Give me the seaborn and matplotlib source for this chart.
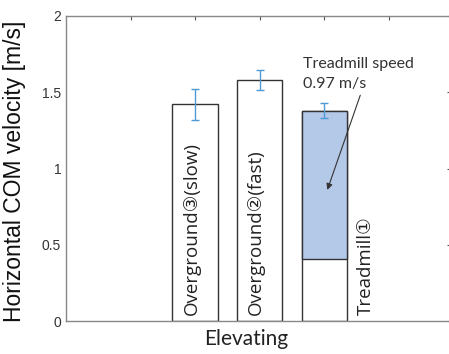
import pandas as pd
import numpy as np
import matplotlib
matplotlib.use('Agg')
import matplotlib.pyplot as plt
import seaborn as sns

# Datos
condiciones = ['Overground③(slow)', 'Overground②(fast)', 'Treadmill①']
velocidad = [1.42, 1.58, 1.38]
error = [0.10, 0.063, 0.05]
velocidad_cinta = 0.97

sns.set_style('white')
plt.rcParams['font.family'] = ['Liberation Sans', 'DejaVu Sans']

df = pd.DataFrame({'condicion': condiciones, 'velocidad': velocidad})

fig = plt.figure(figsize=(4.49, 3.54), dpi=100)
ax = fig.add_axes([0.147, 0.093, 0.858, 0.862])

sns.barplot(data=df, x='condicion', y='velocidad', color='white', width=0.7,
            edgecolor='#333333', linewidth=1.0, ax=ax)

# Parte azul de la cinta (velocidad de la cinta)
ax.bar(2, velocidad_cinta, width=0.7, bottom=velocidad[2] - velocidad_cinta,
       color='#b4c8e8', edgecolor='#333333', linewidth=1.0, zorder=3)

ax.errorbar(range(len(condiciones)), velocidad, yerr=error, fmt='none',
            ecolor='#4d9ad6', elinewidth=1.0, capsize=3, zorder=4)

# Etiquetas verticales de cada barra
fuente = ['Open Sans', 'DejaVu Sans']
ax.text(-0.05, 0.04, condiciones[0], rotation=90, ha='center', va='bottom',
        fontsize=13.5, family=fuente, color='#222222', zorder=5)
ax.text(0.95, 0.04, condiciones[1], rotation=90, ha='center', va='bottom',
        fontsize=13.5, family=fuente, color='#222222', zorder=5)
ax.text(2.65, 0.04, condiciones[2], rotation=90, ha='center', va='bottom',
        fontsize=13.5, family=fuente, color='#222222', zorder=5)

# Anotación de la velocidad de la cinta
ax.text(1.68, 1.73, 'Treadmill speed\n0.97 m/s', fontsize=11.5, family=['Lato', 'DejaVu Sans'],
        color='#333333', ha='left', va='top', linespacing=1.5, zorder=6)
ax.annotate('', xy=(2.05, 0.86), xytext=(2.56, 1.48),
            arrowprops=dict(arrowstyle='-|>', color='#333333', lw=0.8,
                            shrinkA=0, shrinkB=0, mutation_scale=9),
            zorder=6)

ax.set_xlim(-2, 3.97)
ax.set_ylim(0, 2)
ax.set_yticks([0, 0.5, 1, 1.5, 2])
ax.set_yticklabels(['0', '0.5', '1', '1.5', '2'])
ax.set_xticks(np.arange(-1, 4))
ax.set_xticklabels([])
ax.tick_params(direction='in', length=3, top=True, right=True,
               colors='#555555', labelsize=10, labelcolor='#333333')
for lado in ax.spines.values():
    lado.set_color('#888888')
    lado.set_linewidth(1.0)
    lado.set_visible(True)

ax.set_xlabel('Elevating', fontsize=15, family=['Lato', 'DejaVu Sans'], color='#222222')
ax.xaxis.set_label_coords(0.468, -0.025)
ax.xaxis.label.set_va('top')
ax.set_ylabel('Horizontal COM velocity [m/s]', fontsize=16.5, color='#111111')
ax.yaxis.set_label_coords(-0.105, 0.49)

fig.savefig('out.png', dpi=100)
